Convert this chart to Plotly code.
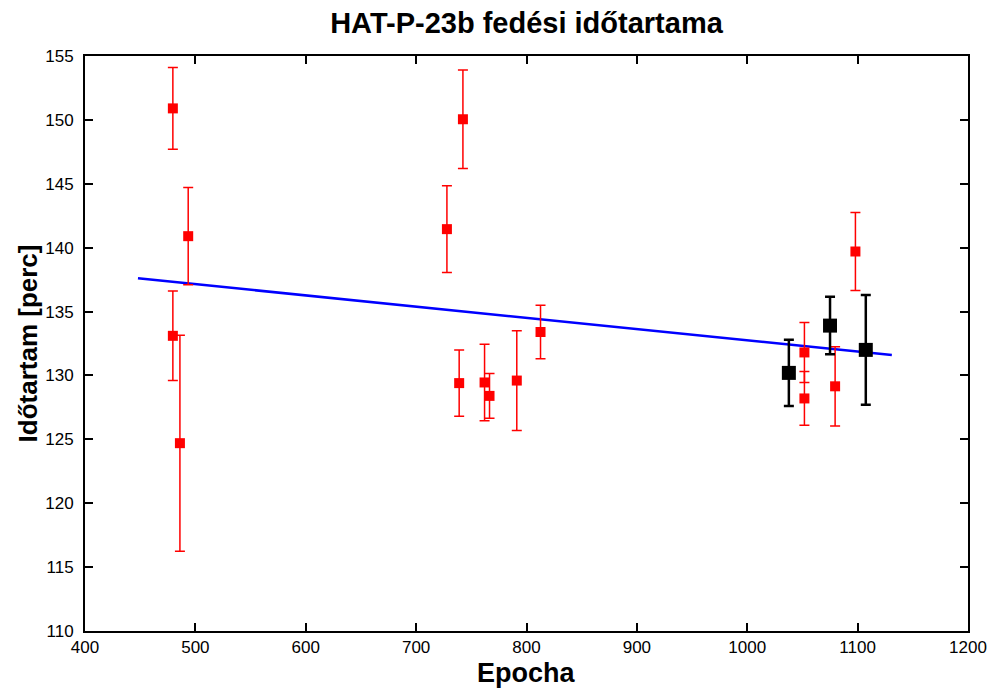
import plotly.graph_objects as go

# Red (literature) data
red_epoch = [479.6, 493.5, 479.6, 486.0, 742.4, 727.9, 739.0, 762.0, 766.5, 791.2, 812.7, 1051.8, 1051.8, 1079.6, 1098.0]
red_dur = [150.9, 140.9, 133.1, 124.7, 150.05, 141.45, 129.4, 129.45, 128.4, 129.6, 133.4, 131.8, 128.2, 129.15, 139.7]
red_err = [3.2, 3.8, 3.5, 8.45, 3.85, 3.4, 2.6, 3.0, 1.75, 3.9, 2.1, 2.35, 2.1, 3.1, 3.05]

# Black (own) data
blk_epoch = [1037.7, 1075.0, 1107.4]
blk_dur = [130.2, 133.9, 132.0]
blk_err = [2.6, 2.25, 4.3]

# Linear fit endpoints
fit_epoch = [448.0, 1131.0]
fit_dur = [137.6, 131.6]

font_fam = "Liberation Sans, Arial, sans-serif"

fig = go.Figure()
fig.add_trace(go.Scatter(
    x=fit_epoch, y=fit_dur, mode="lines",
    line=dict(color="#0000ff", width=2.5), showlegend=False))
fig.add_trace(go.Scatter(
    x=red_epoch, y=red_dur, mode="markers",
    marker=dict(symbol="square", size=10, color="#ff0000"),
    error_y=dict(type="data", array=red_err, color="#ff0000", thickness=1.5, width=5),
    showlegend=False))
fig.add_trace(go.Scatter(
    x=blk_epoch, y=blk_dur, mode="markers",
    marker=dict(symbol="square", size=14, color="#000000"),
    error_y=dict(type="data", array=blk_err, color="#000000", thickness=2.5, width=5),
    showlegend=False))

axis_common = dict(
    showgrid=False, zeroline=False, showline=True, linecolor="black", linewidth=2,
    mirror="ticks", ticks="inside", ticklen=8, tickwidth=1.5, tickcolor="black",
    tickfont=dict(family=font_fam, size=17, color="black"),
    automargin=False,
)
fig.update_layout(
    width=993, height=688,
    paper_bgcolor="white", plot_bgcolor="white",
    margin=dict(l=85, r=25, t=56, b=57),
    title=dict(text="<b>HAT-P-23b fedési időtartama</b>", x=0.5, xanchor="center",
               xref="paper",
               y=1 - 23 / 688, yanchor="middle",
               font=dict(family=font_fam, size=29, color="black")),
    xaxis=dict(range=[400, 1200], dtick=100, tick0=400, ticklabelstandoff=0,
               **axis_common),
    yaxis=dict(range=[110, 155], dtick=5, tick0=110, ticklabelstandoff=6,
               title=dict(text="<b>Időtartam [perc]</b>", standoff=0,
                          font=dict(family=font_fam, size=26, color="black")),
               **axis_common),
    annotations=[dict(text="<b>Epocha</b>", x=0.5, xref="paper", xanchor="center",
                      y=0, yref="paper", yanchor="middle", yshift=-42,
                      showarrow=False,
                      font=dict(family=font_fam, size=27, color="black"))],
)

fig.write_html("out.html")
